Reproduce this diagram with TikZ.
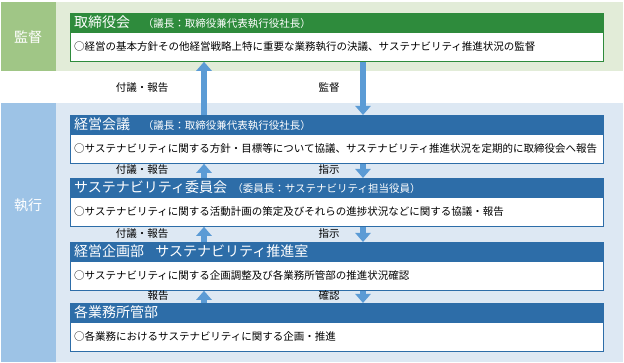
\documentclass[tikz,border=0pt]{standalone}
\usepackage{fontspec}
\setmainfont{Noto Sans CJK JP}
\usepackage{xcolor}
\usepackage{tikz}
\usetikzlibrary{positioning,arrows.meta}
\definecolor{kgreen}{HTML}{2E8B3C}
\definecolor{kgreenlt}{HTML}{E2ECD8}
\definecolor{kgreenmd}{HTML}{A0C686}
\definecolor{kblue}{HTML}{2D6DA8}
\definecolor{kbluelt}{HTML}{DDE8F3}
\definecolor{kbluemd}{HTML}{9DC3E6}
\definecolor{karrow}{HTML}{5B9BD5}
\newcommand{\ttl}[1]{{\fontsize{14}{16}\selectfont #1}}
\newcommand{\chair}[1]{{\fontsize{10.5}{12}\selectfont #1}}

\begin{document}
\begin{tikzpicture}[x=1pt,y=-1pt,font=\fontsize{10.5}{12}\selectfont,
  hd/.style={rectangle,draw=#1,fill=#1,text=white,anchor=north west,minimum height=18.5pt,
    text width=525pt,inner xsep=4pt,inner ysep=0pt,align=left},
  bd/.style={rectangle,draw=#1,fill=white,line width=0.9pt,minimum height=29pt,
    text width=525pt,inner xsep=4pt,inner ysep=0pt,align=left},
  sec/.style={text=white,font=\fontsize{14}{16}\selectfont},
  lbl/.style={text=black,inner sep=1pt},
  blk/.style={-{Triangle[width=15pt,length=9pt]},line width=5.5pt,karrow}]
  \useasboundingbox (0,0) rectangle (624,363);
  \fill[kgreenlt] (56,2) rectangle (623,71);
  \fill[kgreenmd] (1,2) rectangle (56,71);
  \fill[kbluelt] (56,103) rectangle (623,362);
  \fill[kbluemd] (1,103) rectangle (56,362);
  \node[sec] (kansa) at (28,37) {監督};
  \node[sec] (shikko) at (28,205) {執行};
  % boxes
  \node[hd=kgreen] (h1) at (70,13) {\ttl{取締役会}\hspace{1.2em}\chair{（議長：取締役兼代表執行役社長）}};
  \node[bd=kgreen,below=0pt of h1] (b1) {○経営の基本方針その他経営戦略上特に重要な業務執行の決議、サステナビリティ推進状況の監督};
  \node[hd=kblue] (h2) at (70,115) {\ttl{経営会議}\hspace{1.2em}\chair{（議長：取締役兼代表執行役社長）}};
  \node[bd=kblue,below=0pt of h2] (b2) {○サステナビリティに関する方針・目標等について協議、サステナビリティ推進状況を定期的に取締役会へ報告};
  \node[hd=kblue] (h3) at (70,178) {\ttl{サステナビリティ委員会}\hspace{0.5em}\chair{（委員長：サステナビリティ担当役員）}};
  \node[bd=kblue,below=0pt of h3] (b3) {○サステナビリティに関する活動計画の策定及びそれらの進捗状況などに関する協議・報告};
  \node[hd=kblue] (h4) at (70,242) {\ttl{経営企画部\hspace{0.8em}サステナビリティ推進室}};
  \node[bd=kblue,below=0pt of h4] (b4) {○サステナビリティに関する企画調整及び各業務所管部の推進状況確認};
  \node[hd=kblue] (h5) at (70,303) {\ttl{各業務所管部}};
  \node[bd=kblue,below=0pt of h5] (b5) {○各業務におけるサステナビリティに関する企画・推進};
  % labels
  \node[lbl] (r1) at (142,88) {付議・報告};
  \node[lbl] (s1) at (329,88) {監督};
  \node[lbl] (r2) at (142,170) {付議・報告};
  \node[lbl] (s2) at (329,170) {指示};
  \node[lbl] (r3) at (142,234) {付議・報告};
  \node[lbl] (s3) at (329,234) {指示};
  \node[lbl] (r4) at (158,296) {報告};
  \node[lbl] (s4) at (329,296) {確認};
  % arrows
  \coordinate (up) at (204,0); \coordinate (dn) at (363,0);
  \draw[blk] (h2.north -| up) -- (b1.south -| up);
  \draw[blk] (b1.south -| dn) -- (h2.north -| dn);
  \draw[blk] (h3.north -| up) -- (b2.south -| up);
  \draw[blk] (b2.south -| dn) -- (h3.north -| dn);
  \draw[blk] (h4.north -| up) -- (b3.south -| up);
  \draw[blk] (b3.south -| dn) -- (h4.north -| dn);
  \draw[blk] (h5.north -| up) -- (b4.south -| up);
  \draw[blk] (b4.south -| dn) -- (h5.north -| dn);
\end{tikzpicture}
\end{document}
